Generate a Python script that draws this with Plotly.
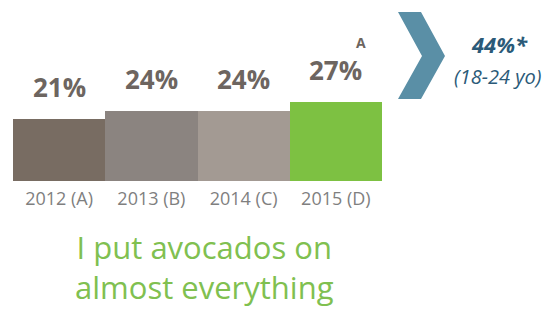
import plotly.graph_objects as go

# ---- data ----
categories = ["2012 (A)", "2013 (B)", "2014 (C)", "2015 (D)"]
values = [21, 24, 24, 27]
value_labels = ["21%", "24%", "24%", "27%"]
sig_letters = ["", "", "", "A"]
bar_colors = ["#786c62", "#8b8480", "#a39a93", "#7dc142"]
highlight_value = "44%*"
highlight_note = "(18-24 yo)"
statement = "I put avocados on<br>almost everything"

W, H = 559, 321
def px(x):
    return x / W
def py(y):
    return 1 - y / H

fig = go.Figure()
fig.add_trace(go.Bar(
    x=categories, y=values,
    marker=dict(color=bar_colors, line=dict(width=0)),
    width=1.0, hoverinfo="skip",
))

annotations = []
for c, v, lab, sig in zip(categories, values, value_labels, sig_letters):
    annotations.append(dict(
        x=c, y=v, xref="x", yref="y", text="<b>%s</b>" % lab, showarrow=False,
        yanchor="middle", xanchor="center", yshift=32, borderpad=0,
        font=dict(family="Open Sans", size=26, color="#6d6560"),
    ))
    if sig:
        annotations.append(dict(
            x=c, y=v, xref="x", yref="y", text="<b>%s</b>" % sig, showarrow=False,
            yanchor="middle", xanchor="center", yshift=59, xshift=25, borderpad=0,
            font=dict(family="Open Sans", size=14, color="#6d6560"),
        ))

annotations.append(dict(
    x=px(499), y=py(44), xref="paper", yref="paper",
    text="<b><i>%s</i></b>" % highlight_value, showarrow=False,
    xanchor="center", yanchor="middle",
    font=dict(family="Open Sans", size=22, color="#2b5a78"),
))
annotations.append(dict(
    x=px(497), y=py(76), xref="paper", yref="paper",
    text="<i>%s</i>" % highlight_note, showarrow=False,
    xanchor="center", yanchor="middle",
    font=dict(family="Open Sans", size=20, color="#2b5a78"),
))
annotations.append(dict(
    x=px(204), y=py(267), xref="paper", yref="paper",
    text=statement, showarrow=False,
    xanchor="center", yanchor="middle",
    font=dict(family="Open Sans", size=31, color="#80c050"),
))

# chevron in paper coordinates
pts = [(398, 12), (421, 12), (445, 56), (421, 99), (398, 99), (422, 56)]
path = "M " + " L ".join("%.5f,%.5f" % (px(x), py(y)) for x, y in pts) + " Z"

fig.update_layout(
    width=W, height=H,
    margin=dict(l=0, r=0, t=0, b=0),
    paper_bgcolor="white", plot_bgcolor="white",
    showlegend=False, bargap=0,
    xaxis=dict(domain=[px(13), px(382)], showgrid=False, showline=False, zeroline=False,
               ticks="outside", ticklen=1, tickcolor="rgba(0,0,0,0)",
               tickfont=dict(family="Open Sans", size=18, color="#7f7f7f"),
               fixedrange=True),
    yaxis=dict(domain=[py(181), 1], range=[0, 181 / 2.93], visible=False, fixedrange=True),
    annotations=annotations,
    shapes=[dict(type="path", xref="paper", yref="paper", path=path,
                 fillcolor="#5a8fa6", line=dict(width=0))],
)

fig.write_html("out.html")
